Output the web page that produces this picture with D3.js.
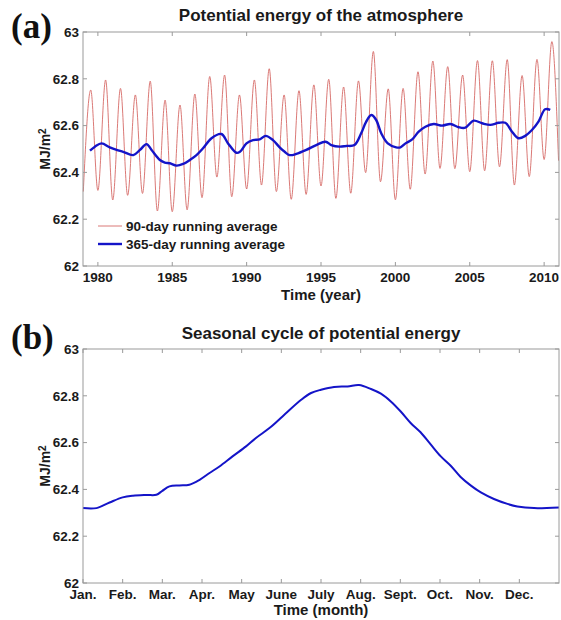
<!DOCTYPE html>
<html>
<head>
<meta charset="utf-8">
<script src="https://cdn.jsdelivr.net/npm/d3@7"></script>
<style>
  html, body { margin: 0; padding: 0; background: #fff; }
  svg { display: block; font-family: Arial, "Liberation Sans", Helvetica, sans-serif; }
</style>
</head>
<body>
<svg id="chart" width="561" height="620"></svg>
<script>
// ---------- Panel (a) data ----------
const cycleYears = [1979,1980,1981,1982,1983,1984,1985,1986,1987,1988,1989,1990,1991,1992,1993,1994,1995,1996,1997,1998,1999,2000,2001,2002,2003,2004,2005,2006,2007,2008,2009,2010];
// 90-day running average: winter minima (around 1 Jan) and summer maxima (around July) of each year
const winterMin = [62.318,62.323,62.282,62.302,62.310,62.235,62.232,62.240,62.292,62.380,62.296,62.329,62.346,62.318,62.285,62.306,62.342,62.289,62.311,62.399,62.360,62.283,62.328,62.393,62.417,62.416,62.403,62.407,62.424,62.346,62.382,62.455];
const summerMax = [62.752,62.795,62.759,62.731,62.790,62.709,62.688,62.735,62.810,62.816,62.731,62.795,62.843,62.731,62.749,62.774,62.798,62.765,62.791,62.917,62.757,62.759,62.830,62.876,62.852,62.816,62.878,62.877,62.882,62.814,62.883,62.959];
const endTime = 2010.97;
const endValue = 62.450;

// 365-day running average
const annualTime = [1979.47,1979.80,1980.25,1980.80,1981.26,1981.70,1982.38,1982.83,1983.27,1983.61,1984.17,1984.50,1984.84,1985.29,1985.73,1986.18,1986.63,1987.07,1987.64,1988.30,1988.75,1989.31,1989.55,1989.99,1990.43,1990.88,1991.28,1991.77,1992.22,1992.56,1992.89,1993.34,1994.01,1994.68,1995.31,1995.69,1996.25,1996.70,1997.25,1997.70,1998.04,1998.38,1998.71,1999.05,1999.49,2000.05,2000.34,2000.68,2001.13,2001.57,2002.02,2002.58,2003.14,2003.70,2004.26,2004.70,2005.26,2005.83,2006.38,2006.94,2007.39,2007.84,2008.28,2008.73,2009.18,2009.62,2010.07,2010.41];
const annualValue = [62.493,62.510,62.524,62.507,62.496,62.488,62.474,62.496,62.521,62.496,62.453,62.442,62.439,62.429,62.436,62.453,62.474,62.503,62.546,62.564,62.524,62.484,62.488,62.524,62.538,62.541,62.556,62.538,62.507,62.488,62.474,62.479,62.496,62.517,62.531,62.517,62.510,62.513,62.517,62.567,62.617,62.645,62.624,62.567,62.524,62.507,62.507,62.524,62.541,62.574,62.595,62.607,62.600,62.607,62.593,62.591,62.621,62.610,62.603,62.612,62.612,62.574,62.546,62.556,62.581,62.617,62.670,62.667];

const yearTicks = [1980,1985,1990,1995,2000,2005,2010];
const valueTicks = [62,62.2,62.4,62.6,62.8,63];

// ---------- Panel (b) data ----------
const monthPos = [0,0.34,0.67,1.0,1.26,1.6,1.85,2.0,2.18,2.43,2.68,2.94,3.19,3.44,3.77,4.11,4.36,4.7,5.03,5.5,5.75,6.0,6.33,6.67,6.96,7.26,7.51,7.76,8.01,8.26,8.51,8.77,9.02,9.27,9.52,9.78,10.03,10.36,10.7,10.95,11.37,12.0];
const seasonalValue = [62.320,62.320,62.344,62.366,62.373,62.376,62.377,62.394,62.413,62.417,62.420,62.441,62.470,62.498,62.541,62.584,62.620,62.662,62.712,62.783,62.812,62.826,62.838,62.840,62.846,62.829,62.809,62.776,62.733,62.684,62.644,62.591,62.541,62.501,62.453,62.416,62.387,62.359,62.338,62.327,62.320,62.323];
const monthLabels = ["Jan.","Feb.","Mar.","Apr.","May","June","July","Aug.","Sept.","Oct.","Nov.","Dec."];

// ---------- Drawing ----------
const svg = d3.select("#chart");
const L = 83, R = 559;
const axisColor = "#9a9a9a";
const tickFont = 13.5;

function drawFrame(g, x, y, top, bottom, xTicks, xFmt, xLabelText, xLabelY, yLabelX) {
  g.append("rect").attr("x", L).attr("y", top).attr("width", R - L).attr("height", bottom - top)
    .attr("fill", "none").attr("stroke", axisColor).attr("stroke-width", 1);
  const tl = 4;
  xTicks.forEach(t => {
    const px = x(t);
    g.append("line").attr("x1", px).attr("x2", px).attr("y1", bottom).attr("y2", bottom - tl).attr("stroke", axisColor);
    g.append("line").attr("x1", px).attr("x2", px).attr("y1", top).attr("y2", top + tl).attr("stroke", axisColor);
  });
  valueTicks.forEach(v => {
    const py = y(v);
    g.append("line").attr("x1", L).attr("x2", L + tl).attr("y1", py).attr("y2", py).attr("stroke", axisColor);
    g.append("line").attr("x1", R).attr("x2", R - tl).attr("y1", py).attr("y2", py).attr("stroke", axisColor);
    g.append("text").attr("x", L - 4).attr("y", py).attr("dy", "0.36em")
      .attr("text-anchor", "end").attr("font-size", tickFont).attr("font-weight", "bold").attr("fill", "#1a1a1a")
      .text(d3.format("")(v));
  });
  xTicks.forEach(t => {
    g.append("text").attr("x", x(t)).attr("y", bottom + 16)
      .attr("text-anchor", "middle").attr("font-size", tickFont).attr("font-weight", "bold").attr("fill", "#1a1a1a")
      .text(xFmt(t));
  });
  g.append("text").attr("x", (L + R) / 2).attr("y", xLabelY).attr("text-anchor", "middle")
    .attr("font-size", 15).attr("font-weight", "bold").attr("fill", "#1a1a1a").text(xLabelText);
  const yl = g.append("text").attr("transform", `translate(${yLabelX},${(top + bottom) / 2}) rotate(-90)`)
    .attr("text-anchor", "middle").attr("font-size", 14).attr("font-weight", "bold").attr("fill", "#1a1a1a");
  yl.append("tspan").text("MJ/m");
  yl.append("tspan").attr("dy", "-0.45em").attr("font-size", 10).text("2");
}

// Panel (a)
const topA = 32, botA = 266;
const xA = d3.scaleLinear().domain([1979, 2011]).range([L, R]);
const yA = d3.scaleLinear().domain([62, 63]).range([botA, topA]);
const gA = svg.append("g");

const redPts = [];
cycleYears.forEach((yr, i) => {
  redPts.push([i === 0 ? yr + 0.02 : yr, winterMin[i]]);
  redPts.push([yr + 0.52, summerMax[i]]);
});
redPts.push([endTime, endValue]);

gA.append("path").datum(redPts)
  .attr("fill", "none").attr("stroke", "#d66a66").attr("stroke-width", 0.9)
  .attr("d", d3.line().x(d => xA(d[0])).y(d => yA(d[1])).curve(d3.curveMonotoneX));

gA.append("path").datum(annualTime.map((t, i) => [t, annualValue[i]]))
  .attr("fill", "none").attr("stroke", "#1414c8").attr("stroke-width", 2.4)
  .attr("d", d3.line().x(d => xA(d[0])).y(d => yA(d[1])).curve(d3.curveCatmullRom));

drawFrame(gA, xA, yA, topA, botA, yearTicks, d3.format("d"), "Time (year)", 300, 50);

const legItems = [
  {label: "90-day running average", color: "#d66a66", w: 0.9, y: 226},
  {label: "365-day running average", color: "#1414c8", w: 2.4, y: 244}
];
legItems.forEach(it => {
  gA.append("line").attr("x1", 98).attr("x2", 122).attr("y1", it.y).attr("y2", it.y)
    .attr("stroke", it.color).attr("stroke-width", it.w);
  gA.append("text").attr("x", 126).attr("y", it.y).attr("dy", "0.36em")
    .attr("font-size", 13.5).attr("font-weight", "bold").attr("fill", "#1a1a1a").text(it.label);
});

gA.append("text").attr("x", (L + R) / 2).attr("y", 21).attr("text-anchor", "middle")
  .attr("font-size", 17).attr("font-weight", "bold").attr("fill", "#1a1a1a")
  .text("Potential energy of the atmosphere");
svg.append("text").attr("x", 11).attr("y", 38).attr("font-family", "'Liberation Serif', 'Times New Roman', serif")
  .attr("font-size", 35).attr("font-weight", "bold").attr("fill", "#111").text("(a)");

// Panel (b)
const topB = 349, botB = 583;
const xB = d3.scaleLinear().domain([0, 12]).range([L, R]);
const yB = d3.scaleLinear().domain([62, 63]).range([botB, topB]);
const gB = svg.append("g");

gB.append("path").datum(monthPos.map((m, i) => [m, seasonalValue[i]]))
  .attr("fill", "none").attr("stroke", "#1414c8").attr("stroke-width", 2)
  .attr("d", d3.line().x(d => xB(d[0])).y(d => yB(d[1])).curve(d3.curveCatmullRom));

drawFrame(gB, xB, yB, topB, botB, d3.range(12), i => monthLabels[i], "Time (month)", 615, 50);

gB.append("text").attr("x", (L + R) / 2).attr("y", 339).attr("text-anchor", "middle")
  .attr("font-size", 17).attr("font-weight", "bold").attr("fill", "#1a1a1a")
  .text("Seasonal cycle of potential energy");
svg.append("text").attr("x", 11).attr("y", 349).attr("font-family", "'Liberation Serif', 'Times New Roman', serif")
  .attr("font-size", 35).attr("font-weight", "bold").attr("fill", "#111").text("(b)");
</script>
</body>
</html>
